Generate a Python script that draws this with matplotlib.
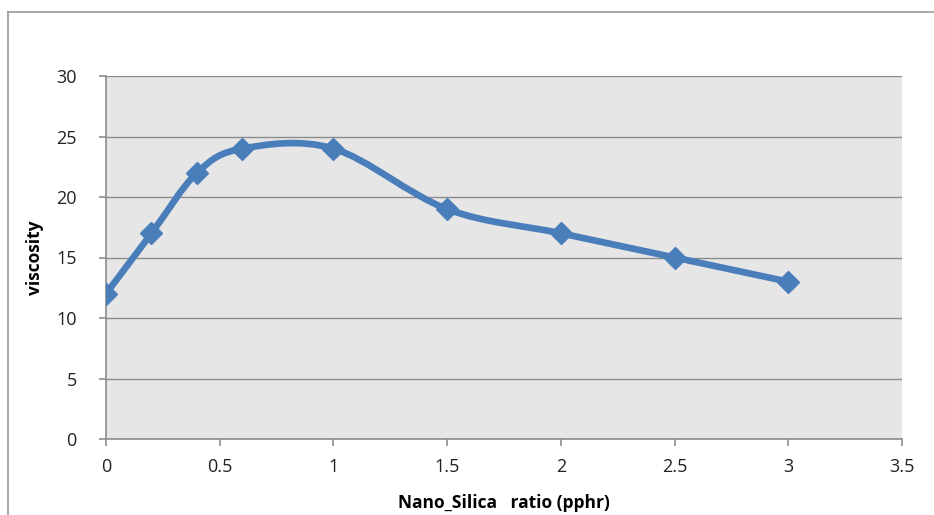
import numpy as np
import matplotlib
matplotlib.use("Agg")
import matplotlib.pyplot as plt
from matplotlib.path import Path
from matplotlib.patches import PathPatch
from matplotlib.lines import Line2D

# data
ratio = [0, 0.2, 0.4, 0.6, 1.0, 1.5, 2.0, 2.5, 3.0]
viscosity = [12, 17, 22, 24, 24, 19, 17, 15, 13]

x_ticks = [0, 0.5, 1, 1.5, 2, 2.5, 3, 3.5]
x_labels = ["0", "0.5", "1", "1.5", "2", "2.5", "3", "3.5"]
y_ticks = [0, 5, 10, 15, 20, 25, 30]

line_color = "#4a7ebb"
grid_color = "#8c8c8c"

plt.rcParams["font.family"] = ["Open Sans", "DejaVu Sans"]

fig = plt.figure(figsize=(9.34, 5.15), dpi=100)
ax = fig.add_axes([106 / 934, 76 / 515, 796 / 934, 363 / 515])
ax.set_facecolor("#e6e6e6")


def smooth_path(xs, ys):
    # Excel-style smoothed line: cubic Bezier segments through each point
    pts = np.column_stack([xs, ys]).astype(float)
    n = len(pts)
    verts = [pts[0]]
    codes = [Path.MOVETO]
    for i in range(n - 1):
        p0 = pts[i - 1] if i > 0 else pts[i]
        p1 = pts[i]
        p2 = pts[i + 1]
        p3 = pts[i + 2] if i + 2 < n else pts[i + 1]
        c1 = p1 + (p2 - p0) / 6.0
        c2 = p2 - (p3 - p1) / 6.0
        verts += [c1, c2, p2]
        codes += [Path.CURVE4] * 3
    return Path(verts, codes)


ax.add_patch(PathPatch(smooth_path(ratio, viscosity), facecolor="none",
                       edgecolor=line_color, lw=4.8, capstyle="round",
                       joinstyle="round", zorder=3))
ax.plot(ratio, viscosity, linestyle="none", marker="D", markersize=11,
        color=line_color, zorder=4)

ax.set_xlim(0, 3.5)
ax.set_ylim(0, 30)
ax.set_xticks(x_ticks)
ax.set_xticklabels(x_labels)
ax.set_yticks(y_ticks)
ax.yaxis.grid(True, color=grid_color, lw=1)
ax.set_axisbelow(True)

for side in ["top", "right"]:
    ax.spines[side].set_visible(False)
for side in ["left", "bottom"]:
    ax.spines[side].set_color(grid_color)
    ax.spines[side].set_linewidth(1.2)

ax.tick_params(axis="both", direction="out", length=5, width=1.2,
               color=grid_color, labelsize=13, labelcolor="#222222")
ax.tick_params(axis="x", pad=9)
ax.tick_params(axis="y", pad=16)

ax.set_xlabel("Nano_Silica   ratio (pphr)", fontsize=12.5, fontweight="bold",
              labelpad=13)
ax.set_ylabel("viscosity", fontsize=12.5, fontweight="bold", labelpad=9)

# outer chart frame (cut off at right and bottom)
fig.add_artist(Line2D([8 / 934, 8 / 934], [0, 1 - 12 / 515],
                      transform=fig.transFigure, color="#999999", lw=1.2))
fig.add_artist(Line2D([8 / 934, 1], [1 - 12 / 515, 1 - 12 / 515],
                      transform=fig.transFigure, color="#999999", lw=1.2))

fig.savefig("out.png", dpi=100)
